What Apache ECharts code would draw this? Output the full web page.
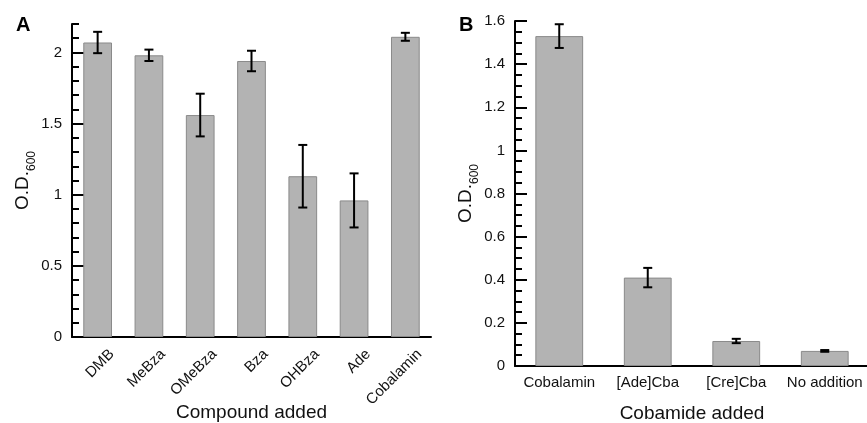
<!DOCTYPE html>
<html>
<head>
<meta charset="utf-8">
<script src="https://cdn.jsdelivr.net/npm/echarts@6/dist/echarts.min.js"></script>
<style>
  html, body { margin: 0; padding: 0; background: #fff; }
  #main { width: 867px; height: 423px; }
</style>
</head>
<body>
<div id="main"></div>
<script>
// panel A
var compounds = ['DMB', 'MeBza', 'OMeBza', 'Bza', 'OHBza', 'Ade', 'Cobalamin'];
var odA = [2.07, 1.98, 1.56, 1.94, 1.13, 0.96, 2.11];
var errA = [0.075, 0.04, 0.15, 0.072, 0.22, 0.19, 0.028];
var yTicksA = [0, 0.5, 1, 1.5, 2];

// panel B
var cobamides = ['Cobalamin', '[Ade]Cba', '[Cre]Cba', 'No addition'];
var odB = [1.53, 0.41, 0.116, 0.07];
var errB = [0.055, 0.045, 0.01, 0.004];
var yTicksB = [0, 0.2, 0.4, 0.6, 0.8, 1, 1.2, 1.4, 1.6];

var font = 'Liberation Sans';
var ink = '#111';

function majorLabel(ticks) {
	return function(v) {
		for (var i = 0; i < ticks.length; i++) {
			if (Math.abs(v - ticks[i]) < 1e-6) return String(ticks[i]);
		}
		return '';
	};
}

function errData(vals, errs) {
	return vals.map(function(v, i) { return [i, v, errs[i]]; });
}

function renderErr(params, api) {
	var x = api.value(0), y = api.value(1), e = api.value(2);
	var hi = api.coord([x, y + e]);
	var lo = api.coord([x, y - e]);
	var cap = 4.5;
	var st = { stroke: '#000', lineWidth: 2 };
	return {
		type: 'group',
		children: [
			{ type: 'line', shape: { x1: hi[0], y1: hi[1], x2: lo[0], y2: lo[1] }, style: st },
			{ type: 'line', shape: { x1: hi[0] - cap, y1: hi[1], x2: hi[0] + cap, y2: hi[1] }, style: st },
			{ type: 'line', shape: { x1: lo[0] - cap, y1: lo[1], x2: lo[0] + cap, y2: lo[1] }, style: st }
		]
	};
}

function yName() {
	return {
		name: '{a|O.D.}{s|600}',
		nameLocation: 'middle',
		nameRotate: 90,
		nameTextStyle: {
			rich: {
				a: { fontSize: 19, fontFamily: font, color: ink, verticalAlign: 'top' },
				s: { fontSize: 12, fontFamily: font, color: ink, verticalAlign: 'bottom', padding: [12, 0, 0, 0] }
			}
		}
	};
}

function valueAxes(grid, max, step, ticks, gap) {
	var a = yName();
	var main = Object.assign(a, {
		type: 'value', gridIndex: grid, position: 'left', min: 0, max: max, interval: step,
		nameGap: gap,
		axisLine: { show: true, lineStyle: { color: '#000', width: 2 } },
		axisTick: { show: true, inside: true, length: 7, lineStyle: { color: '#000', width: 2 } },
		axisLabel: { formatter: majorLabel(ticks), margin: 10, fontSize: 15, fontFamily: font, color: ink },
		splitLine: { show: false }
	});
	var major = {
		type: 'value', gridIndex: grid, position: 'left', min: 0, max: max,
		axisLine: { show: false },
		axisTick: { show: true, inside: true, length: 12, customValues: ticks, lineStyle: { color: '#000', width: 2 } },
		axisLabel: { show: false },
		splitLine: { show: false }
	};
	return [main, major];
}

var chart = echarts.init(document.getElementById('main'));

var yA = valueAxes(0, 2.2, 0.1, yTicksA, 32);
var yB = valueAxes(1, 1.6, 0.05, yTicksB, 30);

var option = {
	animation: false,
	backgroundColor: '#fff',
	title: [
		{ text: 'A', left: 11, top: 10, textStyle: { fontSize: 20, fontWeight: 'bold', fontFamily: font, color: '#000' } },
		{ text: 'B', left: 454, top: 10, textStyle: { fontSize: 20, fontWeight: 'bold', fontFamily: font, color: '#000' } }
	],
	grid: [
		{ left: 72, right: 436, top: 24, bottom: 86, outerBoundsMode: 'none' },
		{ left: 515, right: -2, top: 21, bottom: 57, outerBoundsMode: 'none' }
	],
	xAxis: [
		{
			type: 'category', gridIndex: 0, data: compounds,
			name: 'Compound added', nameLocation: 'middle', nameGap: 66, nameMoveOverlap: false,
			nameTextStyle: { fontSize: 19, fontFamily: font, color: ink },
			axisLine: { lineStyle: { color: '#000', width: 2 } },
			axisTick: { show: false },
			axisLabel: {
				interval: 0, rotate: 45, margin: 29, fontSize: 15, fontFamily: font, color: ink,
				padding: [0, -20, 0, 0]
			}
		},
		{
			type: 'category', gridIndex: 1, data: cobamides,
			name: 'Cobamide added', nameLocation: 'middle', nameGap: 38, nameMoveOverlap: false,
			nameTextStyle: { fontSize: 19, fontFamily: font, color: ink },
			axisLine: { lineStyle: { color: '#000', width: 2 } },
			axisTick: { show: false },
			axisLabel: { interval: 0, margin: 9, fontSize: 15, fontFamily: font, color: ink }
		}
	],
	yAxis: [yA[0], yA[1], yB[0], yB[1]],
	series: [
		{
			type: 'bar', xAxisIndex: 0, yAxisIndex: 0, data: odA, barWidth: '56%',
			itemStyle: { color: '#b3b3b3', borderColor: '#8a8a8a', borderWidth: 1 }
		},
		{
			type: 'custom', xAxisIndex: 0, yAxisIndex: 0, data: errData(odA, errA),
			renderItem: renderErr, encode: { x: 0, y: 1 }, z: 5
		},
		{
			type: 'bar', xAxisIndex: 1, yAxisIndex: 2, data: odB, barWidth: '54%',
			itemStyle: { color: '#b3b3b3', borderColor: '#8a8a8a', borderWidth: 1 }
		},
		{
			type: 'custom', xAxisIndex: 1, yAxisIndex: 2, data: errData(odB, errB),
			renderItem: renderErr, encode: { x: 0, y: 1 }, z: 5
		}
	]
};

chart.setOption(option);
</script>
</body>
</html>
